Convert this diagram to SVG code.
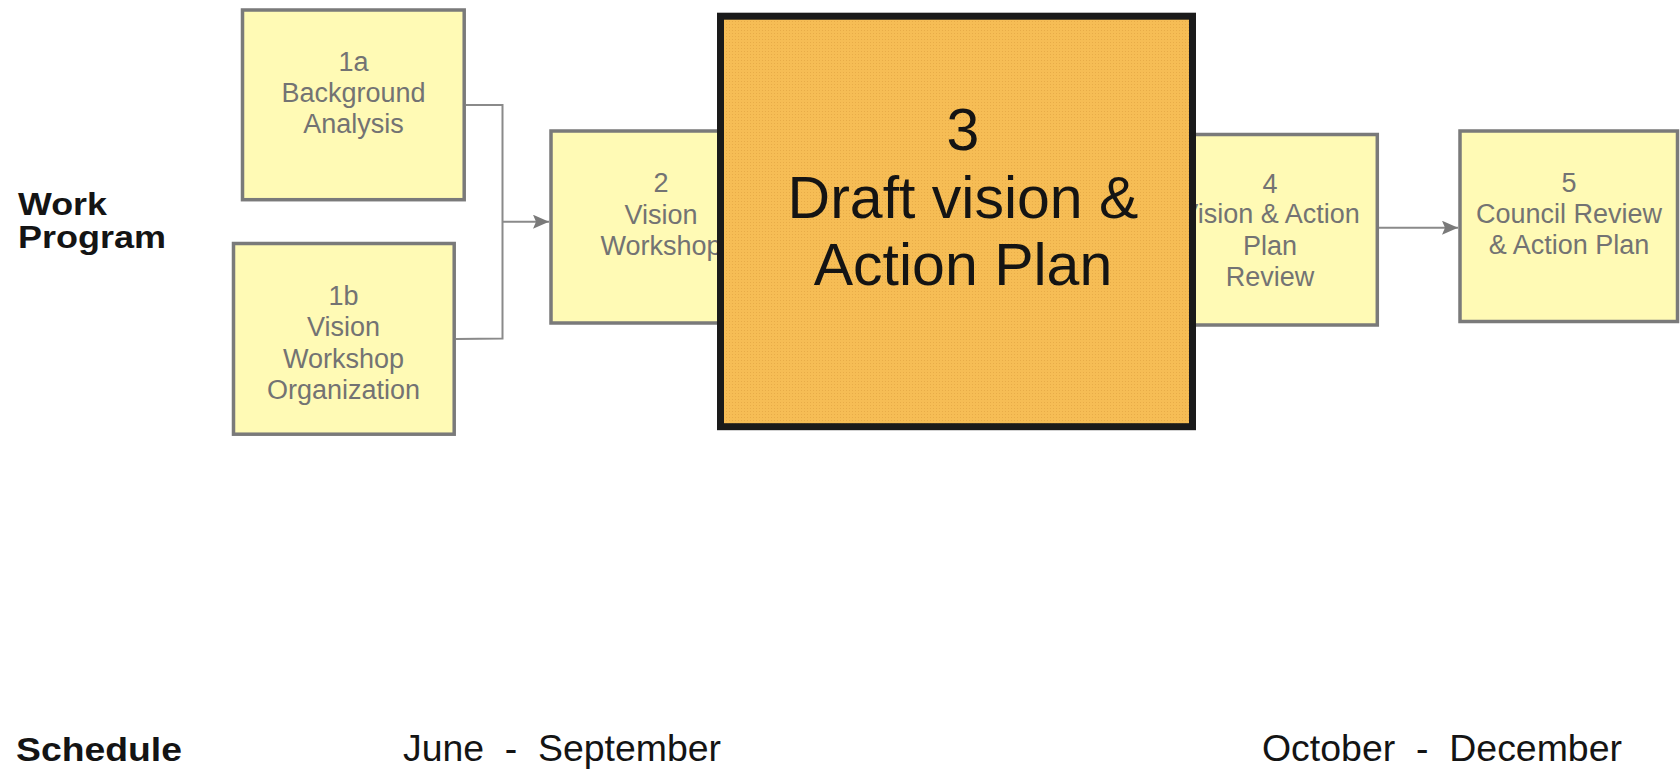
<svg xmlns="http://www.w3.org/2000/svg" width="1680" height="769" viewBox="0 0 1680 769">
<style>
.box{fill:#FFFAB5;stroke:#7A7A7A;stroke-width:3.5}
.lbl{font-family:"Liberation Sans",Arial,sans-serif;font-size:27px;fill:#737373;text-anchor:middle}
.big{font-family:"Liberation Sans",Arial,sans-serif;font-size:59px;fill:#141414;text-anchor:middle}
.hdr{font-family:"Liberation Sans",Arial,sans-serif;font-weight:bold;fill:#141414}
.sch{font-family:"Liberation Sans",Arial,sans-serif;font-size:36px;fill:#141414}
.conn{fill:none;stroke:#8A8A8A;stroke-width:2}
</style>
<defs>
<marker id="arrow" viewBox="0 0 16 14" refX="16" refY="7" markerWidth="16" markerHeight="14" markerUnits="userSpaceOnUse" orient="auto">
<path d="M0,0 L16,7 L0,14 L3,7 z" fill="#7A7A7A"/>
</marker>
<pattern id="dots" width="3" height="3" patternUnits="userSpaceOnUse">
<rect width="3" height="3" fill="#F6BD55"/>
<rect width="1" height="1" fill="#E8AC48"/>
</pattern>
</defs>
<rect width="1680" height="769" fill="#FFFFFF"/>

<g id="labels">
<text class="hdr" x="18" y="215" font-size="32" textLength="89" lengthAdjust="spacingAndGlyphs">Work</text>
<text class="hdr" x="18" y="248" font-size="32" textLength="148" lengthAdjust="spacingAndGlyphs">Program</text>
<text class="hdr" x="16" y="761" font-size="34" textLength="166" lengthAdjust="spacingAndGlyphs">Schedule</text>
<text class="sch" x="403" y="761" textLength="318" lengthAdjust="spacingAndGlyphs" xml:space="preserve">June  -  September</text>
<text class="sch" x="1262" y="761" textLength="360" lengthAdjust="spacingAndGlyphs" xml:space="preserve">October  -  December</text>
</g>

<g id="connectors">
<polyline class="conn" points="466,105 502.5,105 502.5,338.5 456,339"/>
<line class="conn" x1="502.5" y1="221.7" x2="549" y2="221.7" marker-end="url(#arrow)"/>
<line class="conn" x1="1379" y1="227.7" x2="1458" y2="227.7" marker-end="url(#arrow)"/>
</g>

<g id="node-1a">
<rect class="box" x="242.5" y="10" width="221.7" height="189.7"/>
<text class="lbl" x="353.5" y="71">1a</text>
<text class="lbl" x="353.5" y="102">Background</text>
<text class="lbl" x="353.5" y="133">Analysis</text>
</g>

<g id="node-1b">
<rect class="box" x="233.5" y="243.5" width="220.7" height="190.7"/>
<text class="lbl" x="343.5" y="305">1b</text>
<text class="lbl" x="343.5" y="336">Vision</text>
<text class="lbl" x="343.5" y="367.5">Workshop</text>
<text class="lbl" x="343.5" y="399">Organization</text>
</g>

<g id="node-2">
<rect class="box" x="551" y="131" width="220" height="192"/>
<text class="lbl" x="661" y="192">2</text>
<text class="lbl" x="661" y="223.5">Vision</text>
<text class="lbl" x="661" y="255">Workshop</text>
</g>

<g id="node-4">
<rect class="box" x="1160" y="134.5" width="217.3" height="190.5"/>
<text class="lbl" x="1270" y="192.5">4</text>
<text class="lbl" x="1270" y="223">Vision &amp; Action</text>
<text class="lbl" x="1270" y="255">Plan</text>
<text class="lbl" x="1270" y="286">Review</text>
</g>

<g id="node-5">
<rect class="box" x="1460" y="131" width="217.5" height="190.5"/>
<text class="lbl" x="1569" y="192">5</text>
<text class="lbl" x="1569" y="222.5">Council Review</text>
<text class="lbl" x="1569" y="253.5">&amp; Action Plan</text>
</g>

<g id="node-3">
<rect x="720.5" y="16.2" width="472" height="410.5" fill="url(#dots)" stroke="#1A1A1A" stroke-width="7"/>
<text class="big" x="963" y="150">3</text>
<text class="big" x="963" y="218">Draft vision &amp;</text>
<text class="big" x="963" y="285">Action Plan</text>
</g>
</svg>
